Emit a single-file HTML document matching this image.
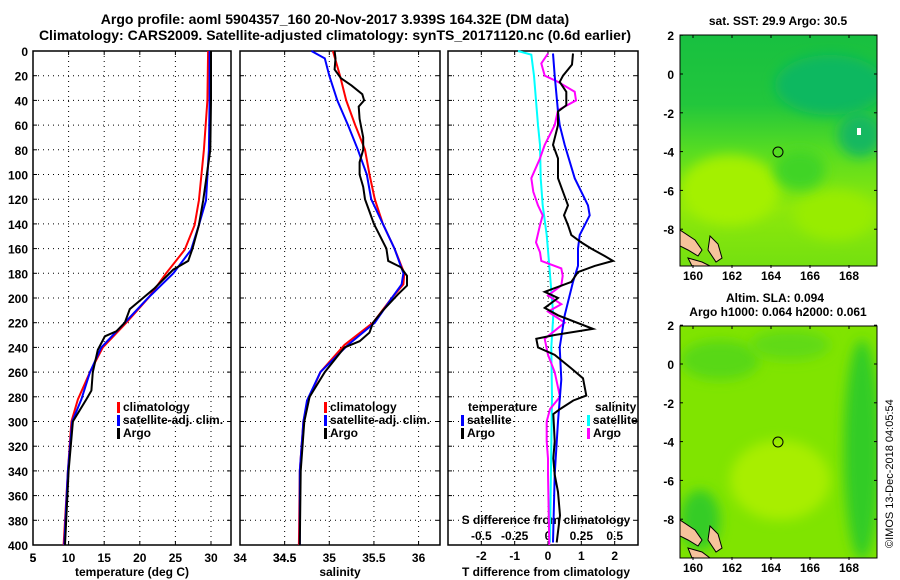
<!DOCTYPE html>
<html><head><meta charset="utf-8"><style>
html,body{margin:0;padding:0;background:#fff;}
svg{display:block;font-family:"Liberation Sans",sans-serif;font-weight:bold;}
</style></head><body>
<svg id="c" width="900" height="580" viewBox="0 0 900 580" xmlns="http://www.w3.org/2000/svg">
<defs>
<filter id="bl" x="-50%" y="-50%" width="200%" height="200%"><feGaussianBlur stdDeviation="6"/></filter>
<linearGradient id="g1" x1="0" y1="0" x2="0" y2="1">
<stop offset="0" stop-color="#18c040"/><stop offset="0.3" stop-color="#22c63c"/><stop offset="0.5" stop-color="#56dc22"/><stop offset="0.75" stop-color="#8ee80a"/><stop offset="1" stop-color="#74e010"/></linearGradient>
<clipPath id="m1"><rect x="680" y="35" width="197" height="231"/></clipPath>
<clipPath id="m2"><rect x="680" y="326" width="197" height="232"/></clipPath>
</defs>
<text x="335" y="24" font-size="14" text-anchor="middle">Argo profile: aoml 5904357_160 20-Nov-2017 3.939S 164.32E (DM data)</text>
<text x="335" y="40" font-size="14" text-anchor="middle">Climatology: CARS2009. Satellite-adjusted climatology: synTS_20171120.nc (0.6d earlier)</text>

<g>
<g clip-path="url(#m1)">
<rect x="680" y="35" width="197" height="231" fill="url(#g1)"/>
<ellipse cx="830" cy="85" rx="55" ry="30" fill="#10b860" filter="url(#bl)"/>
<ellipse cx="860" cy="135" rx="22" ry="22" fill="#14b860" filter="url(#bl)"/>
<ellipse cx="730" cy="190" rx="50" ry="35" fill="#a4f000" filter="url(#bl)"/>
<ellipse cx="835" cy="215" rx="40" ry="25" fill="#98ec00" filter="url(#bl)"/>
<ellipse cx="800" cy="170" rx="25" ry="20" fill="#40d428" filter="url(#bl)"/>
<rect x="857" y="128" width="4" height="7" fill="#fff"/>
<polygon points="680,230 695,240 702,250 698,256 688,250 680,246" fill="#f6c39c" stroke="#000"/>
<polygon points="710,236 718,244 722,258 716,262 708,250" fill="#f6c39c" stroke="#000"/>
<polygon points="688,258 702,262 710,266 692,266" fill="#f6c39c" stroke="#000"/>
</g>
<rect x="680" y="35" width="197" height="231" fill="none" stroke="#000"/>
<circle cx="778" cy="152" r="5" fill="none" stroke="#000"/>
</g>
<g>
<g clip-path="url(#m2)">
<rect x="680" y="326" width="197" height="232" fill="#80e400"/>
<ellipse cx="720" cy="360" rx="40" ry="20" fill="#58d818" filter="url(#bl)"/>
<ellipse cx="790" cy="345" rx="40" ry="15" fill="#60da14" filter="url(#bl)"/>
<ellipse cx="862" cy="450" rx="18" ry="110" fill="#30cc28" filter="url(#bl)"/>
<ellipse cx="700" cy="520" rx="20" ry="30" fill="#34cc28" filter="url(#bl)"/>
<ellipse cx="780" cy="480" rx="50" ry="40" fill="#a8ee00" filter="url(#bl)"/>
<polygon points="680,520 695,530 702,540 698,546 688,540 680,536" fill="#f6c39c" stroke="#000"/>
<polygon points="710,526 718,534 722,548 716,552 708,540" fill="#f6c39c" stroke="#000"/>
<polygon points="688,548 702,552 710,558 692,558" fill="#f6c39c" stroke="#000"/>
</g>
<rect x="680" y="326" width="197" height="232" fill="none" stroke="#000"/>
<circle cx="778" cy="442" r="5" fill="none" stroke="#000"/>
</g>
<text x="778" y="25" font-size="12" text-anchor="middle">sat. SST: 29.9 Argo: 30.5</text>
<text x="775" y="302" font-size="12" text-anchor="middle">Altim. SLA: 0.094</text>
<text x="778" y="316" font-size="12" text-anchor="middle">Argo h1000: 0.064 h2000: 0.061</text>
<text transform="translate(893,548) rotate(-90)" font-size="11" font-weight="normal">©IMOS 13-Dec-2018 04:05:54</text>
</svg>
<script>
// Temperature profiles (depth dbar, temp degC)
const tDepthArgo=[0,40,80,121,141,160,170,177,192,200,209,220,227,231,242,260,275,282,300,340,400];
const tArgo=[30.0,30.0,29.9,28.9,28.3,27.4,26.8,24.7,22.1,20.45,18.6,17.9,16.7,15.1,14.1,13.4,13.2,12.5,10.6,10.0,9.5];
const tDepthClim=[0,40,80,121,141,161,180,200,220,240,260,282,300,340,400];
const tClim=[29.6,29.5,29.0,28.3,27.7,26.3,23.7,21.2,18.1,14.8,13.0,11.3,10.4,9.9,9.3];
const tSat=[29.8,29.8,29.7,29.3,28.3,27.2,24.7,21.15,17.9,14.6,13.0,11.8,10.5,9.9,9.4];
// Salinity profiles
const sDepthArgo=[0,6,15,22,28,35,40,45,55,70,80,90,100,110,120,130,140,150,160,170,175,182,190,197,210,220,228,235,240,260,280,300,340,400];
const sArgo=[35.06,35.07,35.06,35.13,35.25,35.37,35.39,35.33,35.34,35.38,35.38,35.34,35.34,35.38,35.4,35.45,35.5,35.57,35.64,35.66,35.8,35.87,35.87,35.77,35.6,35.49,35.45,35.34,35.17,34.95,34.78,34.72,34.68,34.67];
const sDepthClim=[0,20,40,60,80,100,120,140,160,180,189,200,220,238,260,283,300,340,400];
const sClim=[35.04,35.12,35.19,35.29,35.4,35.45,35.51,35.6,35.73,35.84,35.83,35.7,35.49,35.17,34.9,34.76,34.71,34.67,34.66];
const sDepthSat=[0,6,20,40,60,80,100,120,140,160,180,189,200,220,238,260,283,300,340,400];
const sSat=[34.8,34.95,35.0,35.09,35.21,35.32,35.42,35.47,35.6,35.73,35.83,35.81,35.7,35.51,35.21,34.9,34.75,34.71,34.67,34.67];
// Differences from climatology
const dDepthTArgo=[2,11,20,25,33,44,49,60,76,87,103,114,125,133,141,149,155,160,166,170,174,179,187,195,200,208,214,225,230,233,240,246,257,265,279,283,290,294,316,330,343,357,376,398];
const dTArgo=[0.75,0.72,0.45,0.35,0.55,0.55,0.3,0.3,0.15,0.3,0.3,0.45,0.6,0.48,0.6,0.7,1.0,1.3,1.7,1.95,1.4,0.9,0.7,-0.1,0.3,-0.1,0.3,1.35,0.2,-0.35,-0.3,0.2,0.7,1.05,1.15,0.76,0.36,0.16,0.2,0.16,0.2,0.3,0.36,0.26];
const dDepthTSat=[2,20,49,60,76,103,125,133,149,160,174,187,214,240,266,300,343,398];
const dTSat=[0.15,0.2,0.3,0.35,0.5,0.8,1.2,1.25,0.95,0.9,0.9,0.75,0.5,0.35,0.4,0.3,0.2,0.15];
const dDepthSSat=[0,3,20,40,60,76,103,125,149,174,214,240,280,320,398];
const dSSat=[-0.225,-0.125,-0.105,-0.09,-0.075,-0.06,-0.055,-0.04,-0.01,0.01,0.04,0.025,0.03,0.025,0.015];
const dDepthSArgo=[2,10,20,25,33,40,48,60,76,87,103,114,125,133,141,155,163,170,176,182,190,198,205,211,220,233,246,260,280,290,300,316,330,343,400];
const dSArgo=[0,-0.05,-0.025,0.075,0.2,0.21,0.075,0.05,-0.025,-0.06,-0.125,-0.11,-0.075,-0.04,-0.06,-0.09,-0.06,-0.05,0.1,0.11,0.1,0,0.1,0,0.125,-0.025,0,0.05,0.09,0.015,-0.01,-0.01,0,0,0.01];
const depthTicks=[0,20,40,60,80,100,120,140,160,180,200,220,240,260,280,300,320,340,360,380,400];
const tTicks=[5,10,15,20,25,30];
const sTicks=[34.5,35,35.5,36];
const dTTicks=[-2,-1,0,1,2];
const dSTicks=[-0.5,-0.25,0,0.25,0.5];
const lonTicks=[160,162,164,166,168];
const latTicks=[2,0,-2,-4,-6,-8];

const svg=document.getElementById('c');const NS='http://www.w3.org/2000/svg';
function el(t,a,p){const e=document.createElementNS(NS,t);for(const k in a)e.setAttribute(k,a[k]);(p||svg).appendChild(e);return e;}
const Y0=51,Y1=545;
const yD=d=>Y0+d/400*(Y1-Y0);
const panels=[
 {x0:33,x1:231,v0:5,v1:32.81,name:'temperature-panel'},
 {x0:240,x1:440,v0:34,v1:36.24,name:'salinity-panel'},
 {x0:448,x1:638,v0:-3,v1:2.7,name:'difference-panel'}];
function xf(p){return v=>p.x0+(v-p.v0)/(p.v1-p.v0)*(p.x1-p.x0);}
const xT=xf(panels[0]),xS=xf(panels[1]),xDT=xf(panels[2]);
const xDS=v=>xDT(v*4);
function txt(x,y,s,anchor,size,name,parent){const t=el('text',{x:x,y:y,'font-size':size||12,'text-anchor':anchor||'middle'},parent);t.textContent=s;

return t;}
function dots(x1,y1,x2,y2,g){el('line',{x1:x1,y1:y1,x2:x2,y2:y2,stroke:'#000','stroke-width':1,'stroke-dasharray':'1,4'},g);}
panels.forEach((p,i)=>{
 const g=el('g',{});
 
 
 depthTicks.forEach(d=>{const y=yD(d);if(d>0&&d<400)dots(p.x0,y,p.x1,y,g);
  el('line',{x1:p.x0,y1:y,x2:p.x0+4,y2:y,stroke:'#000'},g);el('line',{x1:p.x1-4,y1:y,x2:p.x1,y2:y,stroke:'#000'},g);
  if(i==0)txt(28,y+5,String(d),'end',12,'depth-tick-label',g);});
 const ticks=i==0?tTicks:i==1?sTicks:dTTicks;const fx=i==0?xT:i==1?xS:xDT;
 ticks.forEach(v=>{const x=fx(v);if(x>p.x0+1&&x<p.x1-1)dots(x,Y0,x,Y1,g);
  el('line',{x1:x,y1:Y1,x2:x,y2:Y1-4,stroke:'#000'},g);el('line',{x1:x,y1:Y0,x2:x,y2:Y0+4,stroke:'#000'},g);
  txt(x,i==2?560:562,String(v),'middle',12,'x-tick-label',g);});
 el('rect',{x:p.x0,y:Y0,width:p.x1-p.x0,height:Y1-Y0,fill:'none',stroke:'#000','stroke-width':1.5},g);
});
txt(33,562,'5','middle',12,'x-tick-label');txt(240,562,'34','middle',12,'x-tick-label');
txt(xS(34.5),562,'34.5','middle',12,'x-tick-label');
dSTicks.forEach(v=>{txt(xDS(v),540,String(v),'middle',12,'s-diff-tick-label');});
txt(132,576,'temperature (deg C)','middle',12,'temperature-axis-title');
txt(340,576,'salinity','middle',12,'salinity-axis-title');
txt(546,576,'T difference from climatology','middle',12,'t-diff-axis-title');
txt(546,524,'S difference from climatology','middle',12,'s-diff-axis-title');
function line(xs,ds,fx,color,name){const pts=xs.map((v,i)=>fx(v).toFixed(1)+','+yD(ds[i]).toFixed(1)).join(' ');
 const l=el('polyline',{points:pts,fill:'none',stroke:color,'stroke-width':2});
 
 }
line(tClim,tDepthClim,xT,'#ff0000','temp-climatology-line');
line(tSat,tDepthClim,xT,'#0000ff','temp-satellite-line');
line(tArgo,tDepthArgo,xT,'#000','temp-argo-line');
line(sClim,sDepthClim,xS,'#ff0000','sal-climatology-line');
line(sSat,sDepthSat,xS,'#0000ff','sal-satellite-line');
line(sArgo,sDepthArgo,xS,'#000','sal-argo-line');
line(dSSat,dDepthSSat,xDS,'#00ffff','s-diff-satellite-line');
line(dSArgo,dDepthSArgo,xDS,'#ff00ff','s-diff-argo-line');
line(dTSat,dDepthTSat,xDT,'#0000ff','t-diff-satellite-line');
line(dTArgo,dDepthTArgo,xDT,'#000','t-diff-argo-line');
function leg(x,y,color,label,name){el('rect',{x:x,y:y-9,width:3,height:11,fill:color});txt(x+6,y,label,'start',12,name);}
leg(117,411,'#ff0000','climatology','legend-climatology');
leg(117,424,'#0000ff','satellite-adj. clim.','legend-satellite');
leg(117,437,'#000','Argo','legend-argo');
leg(324,411,'#ff0000','climatology','legend-climatology-sal');
leg(324,424,'#0000ff','satellite-adj. clim.','legend-satellite-sal');
leg(324,437,'#000','Argo','legend-argo-sal');
txt(468,411,'temperature','start',12,'legend-temperature-header');
leg(461,424,'#0000ff','satellite','legend-t-satellite');
leg(461,437,'#000','Argo','legend-t-argo');
txt(595,411,'salinity','start',12,'legend-salinity-header');
leg(587,424,'#00ffff','satellite','legend-s-satellite');
leg(587,437,'#ff00ff','Argo','legend-s-argo');
// map axes
const lonX=v=>693+(v-160)*19.5;
[[35,74,280],[326,364,572]].forEach(([top,zero,ly])=>{
 lonTicks.forEach(v=>{const x=lonX(v);el('line',{x1:x,y1:top,x2:x,y2:top+3,stroke:'#000'});el('line',{x1:x,y1:ly-12,x2:x,y2:ly-15,stroke:'#000'});txt(x,ly,String(v),'middle',12,'lon-tick-label');});
 latTicks.forEach(v=>{const y=zero-v*19.4;el('line',{x1:680,y1:y,x2:683,y2:y,stroke:'#000'});el('line',{x1:874,y1:y,x2:877,y2:y,stroke:'#000'});txt(674,y+5,String(v),'end',12,'lat-tick-label');});
});
</script>
</body></html>
